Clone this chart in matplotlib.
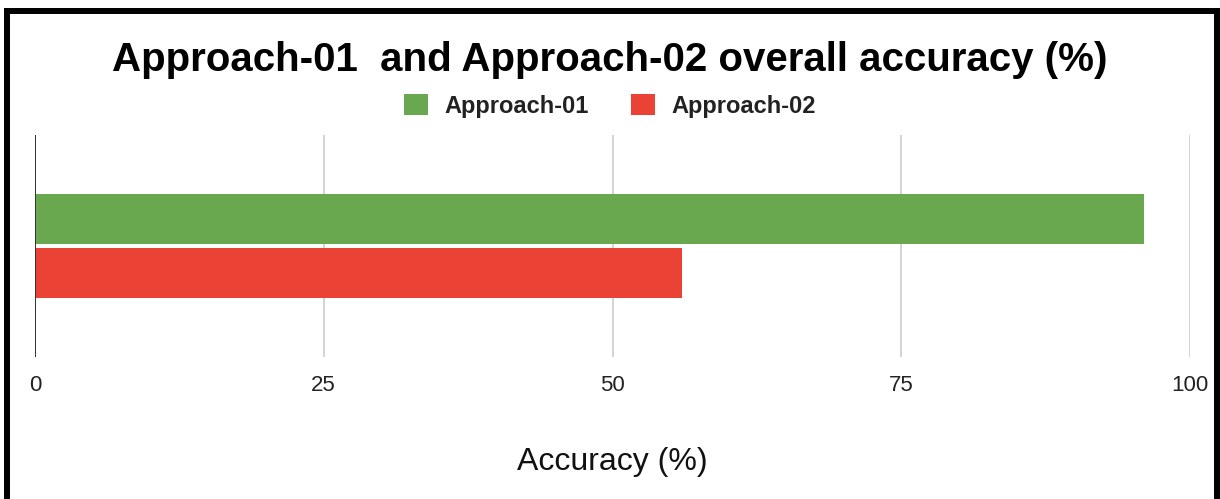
import matplotlib.pyplot as plt
from matplotlib.patches import Rectangle

plt.rcParams['font.family'] = ['Liberation Sans', 'DejaVu Sans']

series = ['Approach-01', 'Approach-02']
accuracy = [96.0, 56.0]
colors = ['#6aa84f', '#ea4335']
ticks = [0, 25, 50, 75, 100]

W, H = 1220, 499
fig = plt.figure(figsize=(W / 100, H / 100), dpi=100)
ax = fig.add_axes([35 / W, 1 - 357 / H, (1190 - 35) / W, (357 - 135) / H])

bar_h = 0.225
offsets = [bar_h / 2 + 0.009, -(bar_h / 2 + 0.009)]
for name, val, col, off in zip(series, accuracy, colors, offsets):
    ax.barh(off, val, height=bar_h, color=col, label=name, zorder=3)

ax.set_xlim(0, 100)
ax.set_ylim(-0.5, 0.5)
ax.set_xticks(ticks)
ax.set_xticklabels([str(t) for t in ticks], fontsize=16, color='#222222')
ax.set_yticks([])
ax.tick_params(axis='x', length=0, pad=13)
ax.grid(axis='x', color='#cccccc', linewidth=1.2, zorder=0)
for s in ax.spines.values():
    s.set_visible(False)
ax.axvline(0, color='#333333', linewidth=1.4, zorder=4)

ax.set_xlabel('Accuracy (%)', fontsize=23, color='#111111', labelpad=37)

fig.text(0.5, 1 - 60 / H, 'Approach-01  and Approach-02 overall accuracy (%)',
         ha='center', va='center', fontsize=29, fontweight='bold', color='#000000')

leg = ax.legend(loc='center', bbox_to_anchor=(0.5, 1 - 106 / H), bbox_transform=fig.transFigure,
                ncol=2, frameon=False, prop={'weight': 'bold', 'size': 17},
                handlelength=1.0, handleheight=1.0, handletextpad=0.7, columnspacing=1.8)
for t in leg.get_texts():
    t.set_color('#222222')

# outer frame
fig.add_artist(Rectangle((7 / W, -0.05), (1217 - 7) / W, 1.05 - 11 / H,
                         transform=fig.transFigure, fill=False,
                         edgecolor='black', linewidth=4.3))

fig.savefig('out.png', dpi=100)
